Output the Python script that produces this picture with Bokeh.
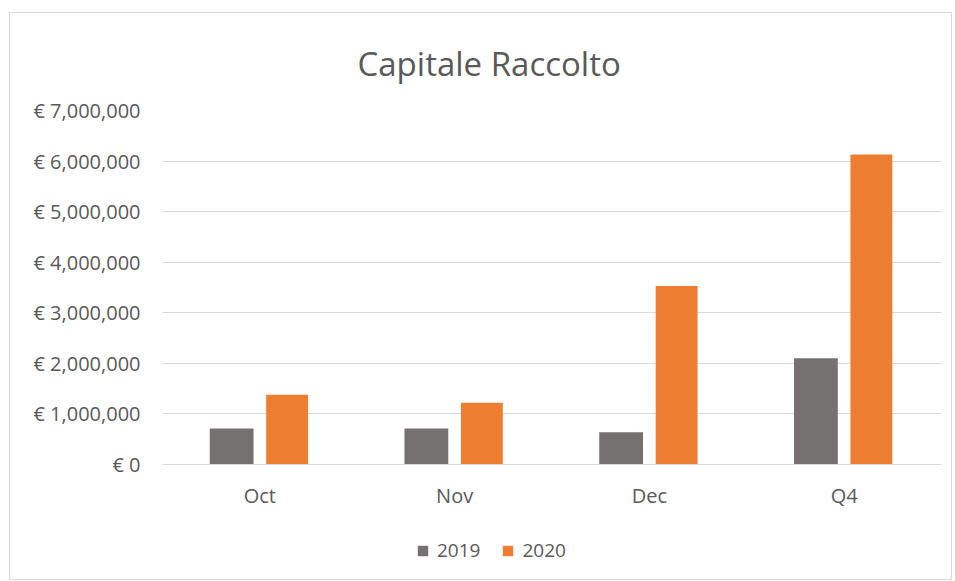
from bokeh.plotting import figure
from bokeh.layouts import column
from bokeh.models import ColumnDataSource, CustomJSTickFormatter, SingleIntervalTicker, Legend, LegendItem, Range1d
from bokeh.transform import dodge
from bokeh.embed import file_html
from bokeh.resources import INLINE

categories = ["Oct", "Nov", "Dec", "Q4"]
series_2019 = [710000, 710000, 640000, 2100000]
series_2020 = [1380000, 1220000, 3530000, 6130000]
series_names = ["2019", "2020"]

FONT = "Open Sans"
TXT = "#595959"
C2019 = "#767171"
C2020 = "#ED7D31"

src = ColumnDataSource(data=dict(cat=categories, y2019=series_2019, y2020=series_2020))

p = figure(x_range=categories, y_range=Range1d(0, 7000000), width=941, height=498,
           output_backend="svg", toolbar_location=None, title="Capitale Raccolto",
           min_border_left=152, min_border_right=10, min_border_top=97, min_border_bottom=45)

r1 = p.vbar(x=dodge("cat", -0.145, range=p.x_range), top="y2019", width=0.225, source=src,
            fill_color=C2019, line_color=None)
r2 = p.vbar(x=dodge("cat", 0.14, range=p.x_range), top="y2020", width=0.215, source=src,
            fill_color=C2020, line_color=None)

p.title.align = "left"
p.title.offset = 195
p.title.text_font = FONT
p.title.text_font_size = "33px"
p.title.text_font_style = "normal"
p.title.text_color = TXT
p.title.standoff = 50

p.outline_line_color = None
p.xgrid.grid_line_color = None
p.ygrid.grid_line_color = "#d9d9d9"
p.ygrid.ticker = SingleIntervalTicker(interval=1000000)

p.yaxis.ticker = SingleIntervalTicker(interval=1000000)
p.yaxis.formatter = CustomJSTickFormatter(code="return '€ ' + tick.toLocaleString('en-US');")
p.yaxis.axis_line_color = None
p.yaxis.major_tick_line_color = None
p.yaxis.minor_tick_line_color = None
p.yaxis.major_tick_out = 0
p.yaxis.major_label_text_font = FONT
p.yaxis.major_label_text_font_size = "20px"
p.yaxis.major_label_text_color = TXT
p.yaxis.major_label_standoff = 18

p.xaxis.axis_line_color = "#d9d9d9"
p.xaxis.major_tick_line_color = None
p.xaxis.minor_tick_line_color = None
p.xaxis.major_tick_out = 0
p.xaxis.major_label_text_font = FONT
p.xaxis.major_label_text_font_size = "20px"
p.xaxis.major_label_text_color = TXT
p.xaxis.major_label_standoff = 17

# legend strip below the chart
lp = figure(width=941, height=68, output_backend="svg", toolbar_location=None,
            x_range=Range1d(0, 1), y_range=Range1d(0, 1), x_axis_location=None, y_axis_location=None,
            min_border=0)
lp.outline_line_color = None
lp.grid.grid_line_color = None
hidden = ColumnDataSource(data=dict(x=[0.5], top=[-1.0], bottom=[-2.0]))
lr1 = lp.vbar(x="x", top="top", bottom="bottom", width=0.1, source=hidden, fill_color=C2019, line_color=None)
lr2 = lp.vbar(x="x", top="top", bottom="bottom", width=0.1, source=hidden, fill_color=C2020, line_color=None)

legend = Legend(items=[LegendItem(label=series_names[0], renderers=[lr1]),
                       LegendItem(label=series_names[1], renderers=[lr2])],
                orientation="horizontal", location=(254, 16))
legend.label_text_font = FONT
legend.label_text_font_size = "19px"
legend.label_text_color = TXT
legend.glyph_width = 13
legend.glyph_height = 13
legend.label_standoff = 8
legend.spacing = 21
legend.padding = 0
legend.margin = 0
legend.border_line_color = None
legend.background_fill_alpha = 0
lp.add_layout(legend)

layout = column(p, lp, spacing=0,
                styles={"border": "1px solid #d9d9d9", "margin-left": "9px", "margin-top": "12px"})

open("out.html", "w").write(file_html(layout, INLINE))
